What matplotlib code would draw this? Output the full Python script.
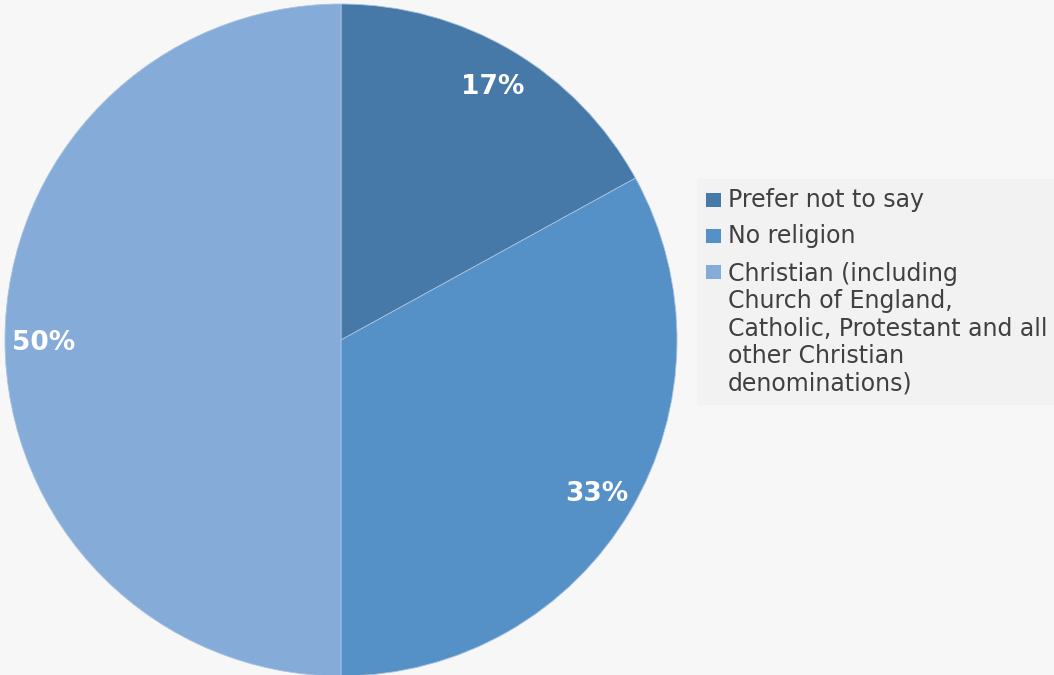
import matplotlib.pyplot as plt
from matplotlib.patches import Rectangle

labels = ['Prefer not to say', 'No religion',
          'Christian (including\nChurch of England,\nCatholic, Protestant and all\nother Christian\ndenominations)']
values = [17, 33, 50]
colors = ['#4779a8', '#5590c6', '#85acd9']

W, H = 1054, 675
fig = plt.figure(figsize=(W / 100, H / 100), dpi=100, facecolor='#f7f7f7')

# pie centred at (341, 340) px, radius 336 px
cx, cy, r = 341, 340, 336
ax = fig.add_axes([(cx - r) / W, (H - cy - r) / H, 2 * r / W, 2 * r / H])
ax.set_facecolor('#f7f7f7')

wedges, texts, autotexts = ax.pie(values, colors=colors, startangle=90, counterclock=False,
                                  autopct='%1.0f%%', pctdistance=0.885, radius=1,
                                  wedgeprops=dict(edgecolor='#a8c2e0', linewidth=0.6),
                                  textprops=dict(color='white', fontsize=19, fontweight='bold'))
for t in autotexts:
    t.set_va('center_baseline')
ax.set_xlim(-1, 1)
ax.set_ylim(-1, 1)
ax.set_aspect('equal')
ax.axis('off')


def fx(px):
    return px / W


def fy(py):
    return 1 - py / H


# legend box, drawn by hand so the swatch sits at the first text line
fs = 17
ls = 1.18
line_px = ls * fs * 100 / 72
fig.add_artist(Rectangle((fx(697), fy(405)), fx(1054) - fx(697), fy(179) - fy(405),
                         transform=fig.transFigure, facecolor='#f2f2f2', edgecolor='none'))
base_y = [207, 243, 279]
for lab, col, by in zip(labels, colors, base_y):
    fig.add_artist(Rectangle((fx(706), fy(by)), fx(15), 14 / H,
                             transform=fig.transFigure, facecolor=col, edgecolor='none'))
    n = lab.count('\n')
    fig.text(fx(728), fy(by + n * line_px), lab, fontsize=fs, color='#404040',
             ha='left', va='baseline', linespacing=ls)

fig.savefig('out.png', dpi=100, facecolor=fig.get_facecolor())
